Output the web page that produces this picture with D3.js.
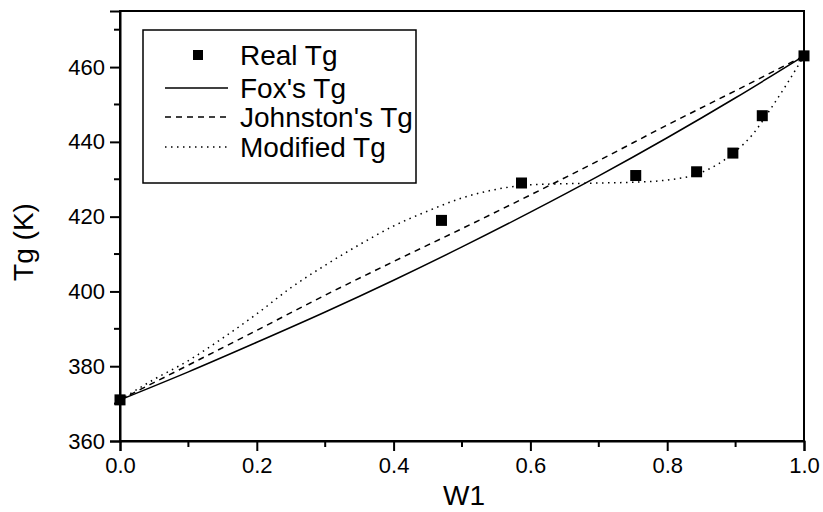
<!DOCTYPE html>
<html>
<head>
<meta charset="utf-8">
<script src="https://cdn.jsdelivr.net/npm/d3@7"></script>
<style>
  body { margin: 0; background: #fff; }
  text { font-family: "Liberation Sans", Arial, sans-serif; fill: #000; }
</style>
</head>
<body>
<div id="chart"></div>
<script>
// measured points
const realW = [0, 0.47, 0.587, 0.754, 0.843, 0.896, 0.939, 1.0];
const realTg = [371, 419, 429, 431, 432, 437, 447, 463];

// model curves
const foxW = [0, 0.1, 0.2, 0.3, 0.4, 0.5, 0.6, 0.7, 0.8, 0.9, 1.0];
const foxTg = [371, 378.5, 386.4, 394.5, 403, 411.9, 421.2, 430.9, 441.1, 451.8, 463];

const johnW = [0, 0.1, 0.2, 0.3, 0.4, 0.5, 0.6, 0.7, 0.8, 0.9, 1.0];
const johnTg = [371, 380.3, 389.6, 399, 408, 416.8, 425.8, 435, 444.5, 453.7, 463];

const modW = [0, 0.05, 0.1, 0.15, 0.2, 0.25, 0.3, 0.35, 0.4, 0.45, 0.5, 0.55, 0.6, 0.65, 0.7, 0.75, 0.8, 0.85, 0.9, 0.925, 0.95, 0.975, 1.0];
const modTg = [371, 376.5, 381.5, 387.5, 394, 401, 407, 412.5, 417.5, 421.5, 425, 427.3, 428.5, 428.8, 429, 429.2, 429.8, 431.8, 437.5, 442, 448.5, 455.5, 463];

const xTicks = [0, 0.2, 0.4, 0.6, 0.8, 1.0];
const xMinor = [0.1, 0.3, 0.5, 0.7, 0.9];
const yTicks = [360, 380, 400, 420, 440, 460];
const yMinor = [370, 390, 410, 430, 450, 470];

const legendItems = ["Real Tg", "Fox's Tg", "Johnston's Tg", "Modified Tg"];

// set the dimensions and margins of the graph
const margin = { top: 11, right: 19, bottom: 71, left: 120 },
    width = 823 - margin.left - margin.right,
    height = 512 - margin.top - margin.bottom;

const svg = d3.select("#chart")
    .append("svg")
    .attr("width", 823)
    .attr("height", 512)
    .append("g")
    .attr("transform", `translate(${margin.left},${margin.top})`);

const x = d3.scaleLinear().domain([0, 1]).range([0, width]);
const y = d3.scaleLinear().domain([360, 475]).range([height, 0]);

// frame
svg.append("rect")
    .attr("width", width)
    .attr("height", height)
    .attr("fill", "none")
    .attr("stroke", "#000")
    .attr("stroke-width", 2);

// x axis
const xAxis = svg.append("g")
    .attr("transform", `translate(0,${height})`)
    .call(d3.axisBottom(x).tickValues(xTicks).tickFormat(d3.format(".1f")).tickSize(10).tickPadding(6));
xAxis.append("g").selectAll("line")
    .data(xMinor)
    .join("line")
    .attr("x1", d => x(d)).attr("x2", d => x(d))
    .attr("y1", 0).attr("y2", 6)
    .attr("stroke", "#000").attr("stroke-width", 2);

// y axis
const yAxis = svg.append("g")
    .call(d3.axisLeft(y).tickValues(yTicks).tickSize(10).tickPadding(5));
yAxis.append("g").selectAll("line")
    .data(yMinor)
    .join("line")
    .attr("x1", 0).attr("x2", -6)
    .attr("y1", d => y(d)).attr("y2", d => y(d))
    .attr("stroke", "#000").attr("stroke-width", 2);

[xAxis, yAxis].forEach(a => {
    a.select(".domain").attr("stroke-width", 2);
    a.selectAll(".tick line").attr("stroke-width", 2);
    a.selectAll(".tick text")
        .style("font-family", "'Liberation Sans', Arial, sans-serif")
        .style("font-size", "22px");
});

// axis titles
svg.append("text")
    .attr("x", width / 2 + 2)
    .attr("y", height + 64)
    .attr("text-anchor", "middle")
    .style("font-size", "28px")
    .text("W1");

svg.append("text")
    .attr("transform", `translate(${-87},${231}) rotate(-90)`)
    .attr("text-anchor", "middle")
    .style("font-size", "28px")
    .text("Tg (K)");

// curves
const line = d3.line()
    .x(d => x(d[0]))
    .y(d => y(d[1]))
    .curve(d3.curveMonotoneX);

const curves = [
    { w: foxW, t: foxTg, dash: null },
    { w: johnW, t: johnTg, dash: "6,5" },
    { w: modW, t: modTg, dash: "1.5,4.5" }
];

svg.selectAll(".curve")
    .data(curves)
    .join("path")
    .attr("class", "curve")
    .attr("fill", "none")
    .attr("stroke", "#000")
    .attr("stroke-width", 1.5)
    .attr("stroke-dasharray", d => d.dash)
    .attr("d", d => line(d.w.map((w, i) => [w, d.t[i]])));

// real points
const sq = 11;
svg.selectAll(".pt")
    .data(realW.map((w, i) => [w, realTg[i]]))
    .join("rect")
    .attr("class", "pt")
    .attr("x", d => x(d[0]) - sq / 2)
    .attr("y", d => y(d[1]) - sq / 2)
    .attr("width", sq)
    .attr("height", sq)
    .attr("fill", "#000");

// legend
const lg = svg.append("g").attr("transform", `translate(${143 - margin.left},${30 - margin.top})`);
lg.append("rect")
    .attr("width", 273)
    .attr("height", 153)
    .attr("fill", "#fff")
    .attr("stroke", "#000")
    .attr("stroke-width", 1.5);

const rowY = [25, 58, 87, 117];
legendItems.forEach((name, i) => {
    if (i === 0) {
        lg.append("rect")
            .attr("x", 55 - 5).attr("y", rowY[i] - 5)
            .attr("width", 10).attr("height", 10)
            .attr("fill", "#000");
    } else {
        lg.append("line")
            .attr("x1", 22).attr("x2", 85)
            .attr("y1", rowY[i]).attr("y2", rowY[i])
            .attr("stroke", "#000")
            .attr("stroke-width", 1.5)
            .attr("stroke-dasharray", curves[i - 1].dash);
    }
    lg.append("text")
        .attr("x", 97)
        .attr("y", rowY[i])
        .attr("dy", "0.36em")
        .style("font-size", "28px")
        .text(name);
});
</script>
</body>
</html>
